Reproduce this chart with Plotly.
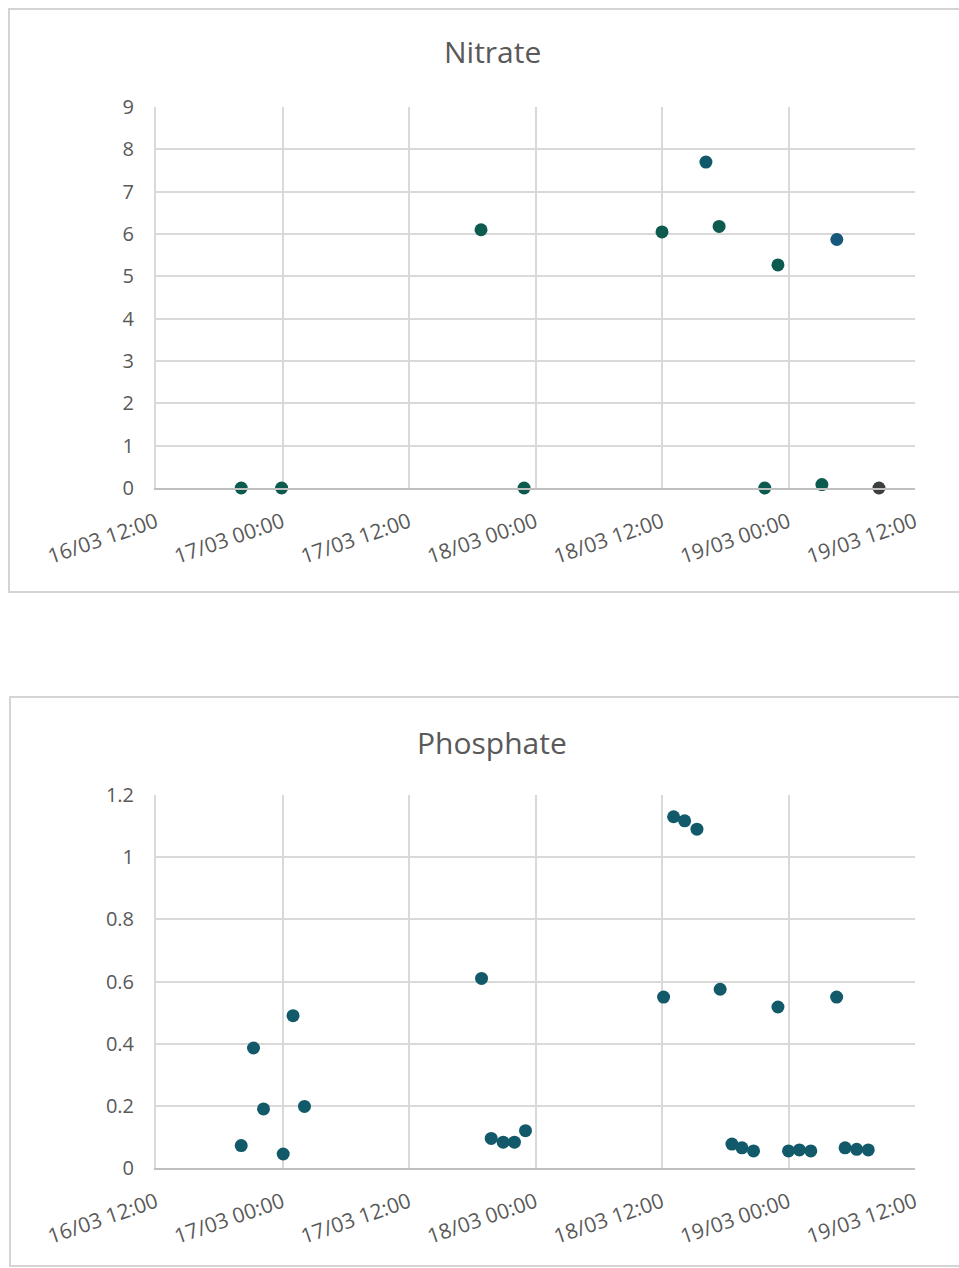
import plotly.graph_objects as go

# ---------------- data ----------------
nitrate_times = [
    "2024-03-16 20:05", "2024-03-16 23:55", "2024-03-17 18:50", "2024-03-17 22:55",
    "2024-03-18 12:00", "2024-03-18 16:10", "2024-03-18 17:25", "2024-03-18 21:45",
    "2024-03-18 23:00", "2024-03-19 03:10", "2024-03-19 04:35", "2024-03-19 08:35",
]
nitrate_values = [0, 0, 6.1, 0, 6.05, 7.7, 6.18, 0, 5.27, 0.08, 5.87, 0]

phosphate_times = [
    "2024-03-16 20:05", "2024-03-16 21:15", "2024-03-16 22:12", "2024-03-17 00:04",
    "2024-03-17 01:00", "2024-03-17 02:05", "2024-03-17 18:53", "2024-03-17 19:48",
    "2024-03-17 20:56", "2024-03-17 22:00", "2024-03-17 23:03", "2024-03-18 12:09",
    "2024-03-18 13:06", "2024-03-18 14:09", "2024-03-18 15:19", "2024-03-18 17:31",
    "2024-03-18 18:38", "2024-03-18 19:35", "2024-03-18 20:41", "2024-03-18 23:00",
    "2024-03-19 00:00", "2024-03-19 01:02", "2024-03-19 02:07", "2024-03-19 04:34",
    "2024-03-19 05:22", "2024-03-19 06:28", "2024-03-19 07:34",
]
phosphate_values = [
    0.072, 0.386, 0.19, 0.045, 0.49, 0.198, 0.61, 0.095, 0.083, 0.083, 0.12, 0.55,
    1.13, 1.117, 1.09, 0.575, 0.077, 0.065, 0.055, 0.518, 0.055, 0.058, 0.055, 0.55,
    0.065, 0.06, 0.058,
]

x_range = ["2024-03-16 12:00", "2024-03-19 12:00"]
nitrate_ticks = [0, 1, 2, 3, 4, 5, 6, 7, 8, 9]
phosphate_ticks = [0, 0.2, 0.4, 0.6, 0.8, 1.0, 1.2]
phosphate_ticktext = ["0", "0.2", "0.4", "0.6", "0.8", "1", "1.2"]

# ---------------- styles ----------------
W, H = 959, 1268
FONT = "Open Sans"
TXT = "#595959"
GRID = "#d9d9d9"
nitrate_colors = ["#0d5a4f"] * 10 + ["#16587a", "#3b3f40"]
nitrate_colors[5] = "#11596a"
phos_color = "#125a6a"


def fx(px):
    return px / W


def fy(py):
    return 1 - py / H


fig = go.Figure()
fig.add_trace(go.Scatter(
    x=nitrate_times, y=nitrate_values, mode="markers",
    marker=dict(size=13, color=nitrate_colors), xaxis="x", yaxis="y",
    cliponaxis=False, showlegend=False,
))
fig.add_trace(go.Scatter(
    x=phosphate_times, y=phosphate_values, mode="markers",
    marker=dict(size=13, color=phos_color), xaxis="x2", yaxis="y2",
    cliponaxis=False, showlegend=False,
))

xdom = [fx(156), fx(915)]
xcommon = dict(
    type="date", range=x_range, dtick=12 * 3600 * 1000, tick0="2024-03-16 12:00",
    tickformat="%d/%m %H:%M", tickangle=-19, showgrid=True, gridcolor=GRID,
    gridwidth=2, showline=True, linecolor="#bfbfbf", linewidth=2, zeroline=False,
    tickfont=dict(family=FONT, size=21, color=TXT), automargin=False,
    ticks="", ticklabelstandoff=12, fixedrange=True, domain=xdom,
)
ycommon = dict(
    showgrid=True, gridcolor=GRID, gridwidth=2, zeroline=False, showline=True,
    linecolor=GRID, linewidth=2,
    tickfont=dict(family=FONT, size=20, color=TXT), automargin=False, ticks="",
    ticklabelstandoff=16, fixedrange=True,
)

fig.update_layout(
    width=W, height=H, margin=dict(l=0, r=0, t=0, b=0),
    paper_bgcolor="white", plot_bgcolor="white",
    xaxis=dict(xcommon, anchor="y"),
    yaxis=dict(ycommon, range=[0, 9], tickvals=nitrate_ticks,
               domain=[fy(488), fy(107)], anchor="x"),
    xaxis2=dict(xcommon, anchor="y2"),
    yaxis2=dict(ycommon, range=[0, 1.2], tickvals=phosphate_ticks,
                ticktext=phosphate_ticktext,
                domain=[fy(1168), fy(795)], anchor="x2"),
    shapes=[
        dict(type="rect", xref="paper", yref="paper", x0=fx(9), x1=fx(975),
             y0=fy(592), y1=fy(9), line=dict(color="#d4d4d4", width=2),
             layer="below"),
        dict(type="rect", xref="paper", yref="paper", x0=fx(10), x1=fx(975),
             y0=fy(1266), y1=fy(697), line=dict(color="#d4d4d4", width=2),
             layer="below"),
    ],
    annotations=[
        dict(text="Nitrate", xref="paper", yref="paper", x=fx(492), y=fy(52),
             xanchor="center", yanchor="middle", showarrow=False,
             font=dict(family=FONT, size=30, color=TXT)),
        dict(text="Phosphate", xref="paper", yref="paper", x=fx(492), y=fy(742),
             xanchor="center", yanchor="middle", showarrow=False,
             font=dict(family=FONT, size=30, color=TXT)),
    ],
)

fig.write_html("out.html")
